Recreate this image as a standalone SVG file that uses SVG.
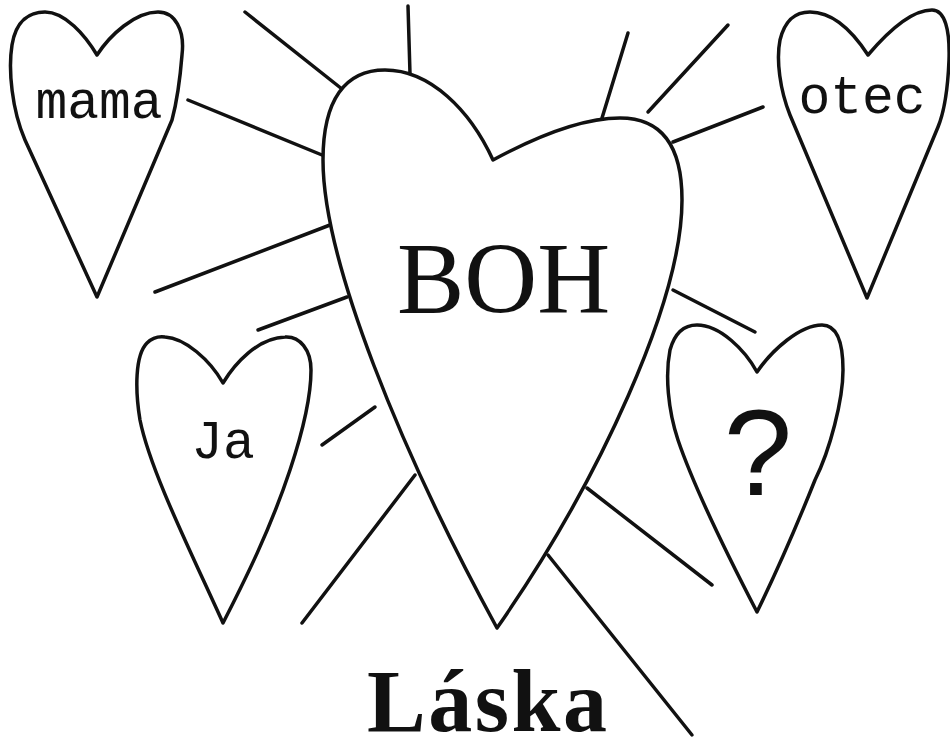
<svg xmlns="http://www.w3.org/2000/svg" width="950" height="750" viewBox="0 0 950 750">
<style>
.h{fill:#fff;stroke:#111;stroke-width:3.5;stroke-linejoin:round}
.c line{stroke:#111;stroke-width:3.5;stroke-linecap:round}
.mono{font-family:"Liberation Mono","DejaVu Sans Mono",monospace;font-size:53px;fill:#111;text-anchor:middle}
</style>
<rect width="950" height="750" fill="#fff"/>
<g id="connectors" class="c">
<line x1="245" y1="12" x2="342" y2="89"/>
<line x1="408" y1="6" x2="410" y2="74"/>
<line x1="188" y1="100" x2="322" y2="155"/>
<line x1="155" y1="292" x2="330" y2="225"/>
<line x1="258" y1="330" x2="347" y2="297"/>
<line x1="322" y1="445" x2="375" y2="407"/>
<line x1="302" y1="623" x2="415" y2="475"/>
<line x1="628" y1="33" x2="602" y2="118"/>
<line x1="728" y1="25" x2="648" y2="112"/>
<line x1="763" y1="107" x2="673" y2="142"/>
<line x1="673" y1="290" x2="755" y2="332"/>
<line x1="587" y1="488" x2="712" y2="585"/>
<line x1="548" y1="555" x2="692" y2="735"/>
</g>
<g id="boh">
<path class="h" d="M497 628 C400 450 323 260 323 160 C323 100 345 70 385 70 C430 70 470 110 493 160 C530 140 580 118 620 118 C665 118 682 150 682 200 C682 300 600 480 497 628 Z"/>
<text x="397" y="313" font-family="'Liberation Serif','Times New Roman',serif" font-size="101" fill="#111">BOH</text>
</g>
<g id="mama">
<path class="h" d="M97 297 L25 140 C12 110 8 70 12 45 C16 20 30 12 45 12 C65 12 85 35 97 55 C110 35 135 12 158 12 C175 12 185 30 182 55 C180 80 176 105 172 120 L97 297 Z"/>
<text class="mono" x="99" y="118">mama</text>
</g>
<g id="otec">
<path class="h" d="M867 298 L790 115 C780 90 776 60 780 40 C785 20 795 12 810 12 C835 12 855 35 868 55 C885 35 910 10 932 10 C945 10 950 30 949 60 C948 85 945 110 938 127 L867 298 Z"/>
<text class="mono" x="862" y="113">otec</text>
</g>
<g id="ja">
<path class="h" d="M223 623 C190 550 150 470 140 420 C135 390 135 355 147 343 C152 338 157 336 165 337 C185 338 210 360 223 383 C235 363 258 338 285 337 C300 336 311 350 311 370 C311 400 300 440 290 470 C270 530 245 580 223 623 Z"/>
<text class="mono" x="223" y="458">Ja</text>
</g>
<g id="otaznik">
<path class="h" d="M757 612 C730 560 695 490 678 440 C668 410 665 375 670 350 C675 332 685 325 697 325 C720 325 745 350 757 372 C772 350 800 325 822 325 C838 325 843 345 843 370 C843 400 830 450 815 480 C795 530 775 575 757 612 Z"/>
<text x="758" y="495" font-family="'Liberation Sans',Arial,sans-serif" font-size="123" fill="#111" text-anchor="middle">?</text>
</g>
<g id="laska">
<text x="367" y="731" font-family="'Liberation Serif','Times New Roman',serif" font-weight="bold" font-size="88" fill="#111" textLength="240" lengthAdjust="spacing">Láska</text>
</g>
</svg>
